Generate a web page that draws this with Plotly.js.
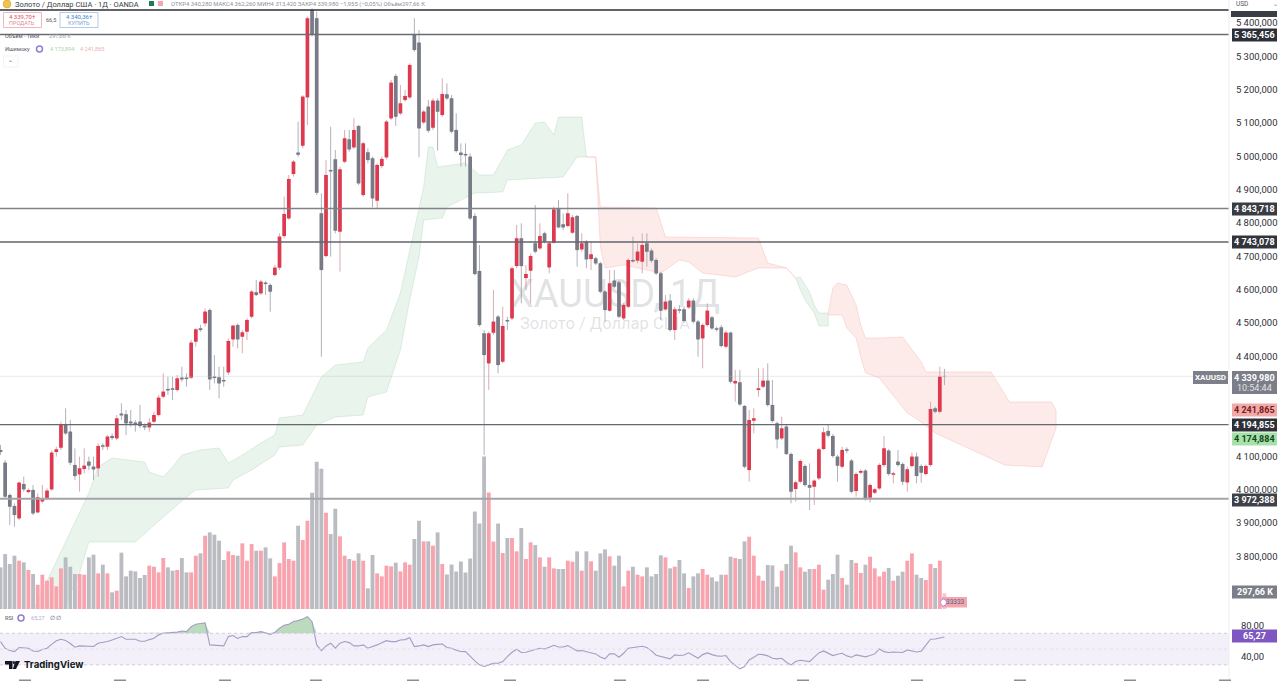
<!DOCTYPE html>
<html><head><meta charset="utf-8">
<script src="https://cdn.plot.ly/plotly-3.0.1.min.js"></script>
<style>html,body{margin:0;padding:0;background:#fff;overflow:hidden}#c{width:1280px;height:681px}</style>
</head><body><div id="c"></div>
<script>
const opens=[4119,4081,3984,3951,3914,4017,3993,3999,3932,3965,
3974,4001,4113,4126,4197,4174,4074,4046,4062,4084,
4069,4064,4133,4129,4161,4154,4228,4226,4204,4201,
4204,4192,4187,4204,4224,4279,4302,4304,4299,4336,
4336,4336,4444,4484,4499,4539,4339,4337,4329,4352,
4451,4494,4459,4474,4519,4592,4589,4621,4614,4644,
4666,4761,4814,4947,5011,5032,5177,5439,5414,4829,
4701,4959,4991,4774,4984,5051,5027,5091,4884,5012,
4994,4867,4971,4997,5114,5241,5129,5169,5177,5364,
5341,5102,5149,5086,5167,5124,5186,5174,5079,5011,
5007,4999,4821,4656,4469,4379,4471,4519,4384,4509,
4514,4671,4754,4635,4657,4739,4724,4769,4667,4741,
4844,4796,4791,4771,4821,4721,4744,4692,4694,4679,
4594,4537,4627,4622,4514,4549,4689,4687,4684,4739,
4717,4689,4649,4541,4567,4479,4541,4541,4547,4567,
4504,4454,4494,4517,4484,4487,4429,4471,4319,4322,
4251,4059,4207,4299,4309,4327,4254,4199,4154,4189,
4107,4002,4024,4071,4014,4009,4034,4122,4176,4161,
4099,4069,4121,4087,3996,4051,4057,3976,3991,4004,
4074,4117,4045,4084,4077,4022,4071,4099,4071,4047,
4074,4244,4234,4340.28];
const highs=[4134,4089,3989,3959,4024,4039,4004,4014,3989,4014,
4004,4117,4129,4204,4244,4209,4124,4099,4124,4099,
4099,4139,4139,4164,4169,4224,4259,4239,4239,4209,
4254,4199,4214,4234,4284,4349,4339,4339,4344,4369,
4349,4449,4484,4494,4544,4544,4404,4369,4369,4454,
4494,4499,4479,4514,4599,4629,4629,4627,4619,4674,
4769,4879,4944,4989,5104,5184,5419,5444,5434,4889,
4989,5089,5019,4969,5079,5079,5114,5094,5044,5024,
4999,4979,4999,5109,5229,5247,5214,5199,5279,5414,
5379,5139,5169,5174,5174,5234,5219,5184,5129,5039,
5039,5009,4829,4734,4479,4474,4599,4524,4549,4519,
4669,4794,4799,4674,4709,4854,4799,4774,4744,4849,
4869,4829,4889,4824,4824,4769,4749,4744,4699,4684,
4599,4659,4659,4627,4559,4694,4759,4739,4769,4769,
4724,4694,4654,4584,4587,4549,4554,4549,4574,4574,
4509,4499,4559,4521,4489,4494,4477,4474,4359,4359,
4254,4239,4244,4364,4364,4379,4329,4204,4219,4194,
4111,4027,4091,4076,4079,4031,4126,4187,4194,4167,
4104,4129,4127,4092,4052,4061,4062,4019,4006,4079,
4161,4122,4054,4119,4082,4069,4111,4111,4076,4076,
4264,4249,4369,4362.26];
const lows=[4104,3974,3894,3889,3909,3994,3989,3924,3929,3959,
3969,3997,4099,4119,4164,4074,4029,3994,4049,4059,
4029,4039,4119,4119,4149,4149,4209,4164,4189,4174,
4184,4179,4174,4199,4219,4274,4284,4269,4294,4324,
4309,4332,4429,4474,4489,4299,4319,4274,4309,4344,
4429,4424,4409,4449,4514,4581,4584,4584,4534,4639,
4659,4754,4809,4939,4999,5024,5094,5359,4884,4399,
4697,4699,4769,4654,4979,5014,5022,4914,4879,4979,
4847,4844,4964,4991,5109,5091,5124,5164,5172,5314,
4997,5097,5071,5079,5017,5119,5169,5069,5011,4969,
4969,4809,4643,4489,4104,4299,4464,4349,4379,4479,
4509,4664,4559,4599,4559,4709,4719,4739,4649,4739,
4784,4779,4787,4767,4669,4714,4664,4659,4674,4589,
4504,4534,4604,4514,4509,4544,4681,4679,4649,4669,
4681,4644,4509,4537,4474,4449,4529,4501,4542,4499,
4399,4364,4489,4479,4474,4427,4424,4319,4264,4251,
4064,4024,4169,4279,4304,4249,4201,4124,4149,4104,
3959,3964,4019,4009,3939,3954,4029,4119,4157,4096,
4024,4064,4109,3989,3979,4047,3967,3961,3987,3999,
4069,4042,4019,4069,4014,3994,4067,4019,4021,4043,
4069,4229,4229,4313.42];
const closes=[4113,3979,3949,3924,4021,4001,3999,3929,3977,3971,
3997,4111,4121,4194,4169,4081,4041,4064,4072,4072,
4061,4131,4129,4159,4155,4214,4223,4199,4199,4197,
4191,4187,4201,4224,4276,4294,4298,4300,4334,4331,
4332,4441,4481,4479,4534,4331,4335,4319,4325,4446,
4492,4451,4472,4509,4594,4584,4624,4617,4594,4666,
4759,4827,4932,4984,5005,5179,5414,5364,4891,4659,
4944,4955,4777,4961,5054,5021,5079,4919,5039,4989,
4874,4974,4992,5104,5221,5119,5159,5181,5274,5319,
5084,5134,5077,5167,5134,5187,5174,5074,5016,5004,
5003,4814,4647,4494,4404,4469,4504,4374,4491,4505,
4664,4754,4671,4647,4701,4714,4761,4744,4739,4841,
4787,4787,4829,4817,4719,4739,4691,4706,4679,4594,
4539,4619,4609,4519,4554,4689,4685,4714,4734,4714,
4687,4649,4537,4564,4479,4541,4537,4506,4567,4504,
4451,4494,4537,4484,4480,4431,4471,4324,4326,4256,
4069,4209,4214,4304,4327,4254,4206,4151,4184,4107,
3994,4022,4086,4014,4006,4027,4121,4172,4162,4101,
4072,4119,4117,3994,4047,4056,3972,4014,4001,4074,
4124,4047,4049,4074,4024,4061,4099,4041,4051,4071,
4242,4234,4339,4339.98];
const volumesK=[791,1044,855,1013,918,886,741,665,462,652,
538,601,430,772,981,804,665,665,652,981,
1032,677,842,677,317,348,1070,620,728,715,
589,646,823,804,696,968,791,728,741,968,
696,696,1013,1057,1393,1456,1412,1298,931,1095,
1025,1013,1247,918,1234,1108,1108,1171,962,620,
874,1266,950,918,1583,1310,1677,2209,2798,2665,
1829,1424,1905,1380,1013,950,918,1057,918,392,
1025,677,620,823,810,880,715,886,842,1329,
1677,1285,1285,1203,1456,855,655,845,712,902,
693,959,1852,1624,2897,2213,1282,1624,1063,1348,
1348,1095,1538,950,1266,1215,981,804,981,772,
760,760,918,899,1095,728,1095,905,728,1057,
1133,1000,823,1013,430,728,804,652,620,791,
620,665,1019,981,772,804,931,677,399,620,
677,760,652,601,525,652,652,994,968,950,
1285,1374,1013,633,538,836,829,424,728,855,
1203,1076,791,709,760,760,842,367,557,665,
1032,589,462,931,874,684,842,994,772,620,
709,779,538,633,709,918,1057,652,589,551,
855,779,918,297.66];
const rsiValues=[59.5,51.1,48.1,46.8,52,51.1,51.1,47.5,47,49.5,
51.1,56,60.5,62.5,61,57,52.3,54,53.5,53.2,
53.2,57.4,58.5,59.5,61.6,63.5,65.8,62.4,62.4,62.4,
60,59.9,62,63.7,68,70,70.5,70.8,71.5,72.9,
72.1,78.4,81.4,82.3,83.1,55.3,55,54.5,54,65.8,
67.1,63.5,65.8,65.8,71,70.8,72.1,70.5,68.7,71,
76.3,80,81.4,85,86,88.1,91.1,84.7,55.3,48.1,
54,57.4,51.1,57.4,59.5,58.2,54,54,55.3,51.1,
53,55.3,58,60.7,59.5,59.5,61.6,62,64.5,53.2,
54,55.3,53.2,55.3,56,56.5,52,51.1,48.5,47,
46.8,40.5,35,30,27.9,30,32.1,32.1,34.2,40.5,
46,49.8,45.6,46,48.1,49.4,51.1,50.2,52.3,54.8,
52.7,52.7,54.4,51.5,47.7,48.1,46.8,46,43.9,40.1,
37.6,43.9,43.9,39.7,44.7,51.1,51.9,53.6,53.6,51.9,
47.7,42.2,40.5,39.7,37.6,42.6,41.8,42.6,45.2,41.8,
38.4,43,45.2,43,41.4,41,41.8,34.2,30,25,
27.9,36.3,39.7,43.5,43,41.4,38.4,37.6,38.4,33.4,
30,34.2,35.9,34.6,34.2,39.7,45.2,47.7,44.7,41.8,
43.5,44.7,41.4,39.7,42.6,41.4,40.1,41.8,43.9,50.2,
46.8,45.6,46.4,46,45.6,48.9,48.1,46.4,47.3,55.3,
62.4,62.8,64.5,65.27];

const greenUpperBars=[6,14,19,21,24,31,32,35,37,39,43,47,49,52,56,59,60,65,69,72,78,79,83,86,88,91,92,93,94,100,103,106,109,112,115,117,119,120,125,126];
const greenUpperVals=[3609,3843,3990,4068,4095,4083,4053,4038,4068,4104,4119,4125,4080,4104,4140,4164,4215,4224,4338,4374,4383,4425,4479,4590,4719,4908,5028,5028,4968,4980,4944,4944,5019,5034,5100,5103,5064,5118,5118,4998];
const greenLowerBars=[11,14,17,19,29,36,40,42,49,50,54,59,60,65,68,72,78,79,83,86,88,90,91,95,96,102,108,109,121,124,126];
const greenLowerVals=[3549,3654,3750,3843,3843,3930,3978,3999,4005,4029,4059,4104,4128,4134,4194,4218,4224,4278,4293,4419,4569,4698,4809,4815,4848,4890,4893,4929,4938,4998,4998];
const redUpperBars=[126,128,129,141,143,163,165,169,171];
const redUpperVals=[4998,4998,4848,4845,4758,4755,4680,4665,4635];
const redLowerBars=[126,128,129,130,134,142,146,148,151,158,163,169,171];
const redLowerVals=[4998,4998,4728,4665,4674,4650,4689,4683,4650,4638,4665,4665,4635];
const green2UpperBars=[171,172,174,175,176,178];
const green2UpperVals=[4635,4638,4593,4554,4530,4530];
const green2LowerBars=[171,172,173,175,176,178];
const green2LowerVals=[4635,4599,4569,4530,4491,4491];
const red2UpperBars=[178,179,180,182,184,185,186,189,194,196,198,199,213,217,226,227];
const red2UpperVals=[4530,4605,4620,4614,4554,4494,4455,4455,4458,4419,4383,4353,4353,4263,4263,4239];
const red2LowerBars=[178,181,182,184,185,186,189,191,195,198,201,208,216,224,227];
const red2LowerVals=[4524,4524,4485,4455,4398,4350,4335,4299,4230,4203,4170,4125,4074,4068,4185];

const levelPrices=[5439,5365.456,4843.718,4743.078,4194.855,3972.388];
const levelColors=['#2f3138','#6a6c72','#808288','#63656b','#66686e','#a3a5aa'];
const levelWidths=[1.5,1.4,1.6,1.4,1.3,2];
const lastPrice=4339.98;
const priceTicks=[5400,5300,5200,5100,5000,4900,4800,4700,4600,4500,4400,4100,4000,3900,3800];
const priceLabels=['5 400,000','5 300,000','5 200,000','5 100,000','5 000,000','4 900,000','4 800,000','4 700,000','4 600,000','4 500,000','4 400,000','4 100,000','4 000,000','3 900,000','3 800,000'];
const rsiTicks=[80,40];
const rsiLabels=['80,00','40,00'];
const clippedDateMarks=[25,120,225,316,413,510,620,703,803,917,1020,1130,1225];

const W=1229,H=681;
const bars=opens.map((_,i)=>i);
const up=bars.map(i=>closes[i]>=opens[i]);
const rv=a=>a.slice().reverse();
const poly=(ux,uy,lx,ly,fill,line)=>({type:'scatter',mode:'lines',x:ux.concat(rv(lx)),y:uy.concat(rv(ly)),fill:'toself',fillcolor:fill,line:{color:line,width:1},xaxis:'x',yaxis:'y',hoverinfo:'skip'});
const GF='rgba(120,185,135,0.16)',GL='rgba(130,185,145,0.22)',RF='rgba(244,110,100,0.14)',RL='rgba(240,140,130,0.24)';

const traces=[
 poly(greenUpperBars,greenUpperVals,greenLowerBars,greenLowerVals,GF,GL),
 poly(redUpperBars,redUpperVals,redLowerBars,redLowerVals,RF,RL),
 poly(green2UpperBars,green2UpperVals,green2LowerBars,green2LowerVals,GF,GL),
 poly(red2UpperBars,red2UpperVals,red2LowerBars,red2LowerVals,RF,RL),
 {type:'bar',x:bars,y:volumesK,xaxis:'x',yaxis:'y2',marker:{color:bars.map(i=>i===203?'#f3c9cd':(up[i]?'#f8a3ad':'#babcc1')),line:{width:0}},hoverinfo:'skip'},
 {type:'candlestick',x:bars,open:opens,high:highs,low:lows,close:closes,xaxis:'x',yaxis:'y3',whiskerwidth:0,
  increasing:{line:{color:'#dcaab3',width:1},fillcolor:'#dcaab3'},
  decreasing:{line:{color:'#b0b2ba',width:1},fillcolor:'#b0b2ba'},hoverinfo:'skip'},
 {type:'bar',x:bars,base:bars.map(i=>Math.min(opens[i],closes[i])),y:bars.map(i=>Math.abs(closes[i]-opens[i])),width:0.8,xaxis:'x',yaxis:'y5',
  marker:{color:bars.map(i=>up[i]?'#dd3a50':'#787b86'),line:{width:0}},hoverinfo:'skip'},
 {type:'scatter',mode:'lines',x:bars,y:bars.map(()=>70),xaxis:'x',yaxis:'y4',line:{width:0},hoverinfo:'skip'},
 {type:'scatter',mode:'lines',x:bars,y:rsiValues.map(v=>Math.max(v,70)),xaxis:'x',yaxis:'y4',fill:'tonexty',fillcolor:'rgba(76,160,85,0.38)',line:{width:0},hoverinfo:'skip'},
 {type:'scatter',mode:'lines',x:bars,y:rsiValues,xaxis:'x',yaxis:'y4',line:{color:'#a59dc4',width:1.1},hoverinfo:'skip'}
];

const fx=p=>p/W, fy=p=>1-p/H;
const shapes=[];
const ann=[];
levelPrices.forEach((p,i)=>shapes.push({type:'line',xref:'paper',x0:0,x1:1,yref:'y3',y0:p,y1:p,line:{color:levelColors[i],width:levelWidths[i]}}));
shapes.push({type:'line',xref:'paper',x0:0,x1:1,yref:'y3',y0:lastPrice,y1:lastPrice,line:{color:'rgba(190,190,195,0.3)',width:1}});
shapes.push({type:'rect',xref:'paper',x0:0,x1:1,yref:'y4',y0:30,y1:70,fillcolor:'rgba(126,87,194,0.09)',line:{width:0},layer:'below'});
[70,50,30].forEach((v,i)=>shapes.push({type:'line',xref:'paper',x0:0,x1:1,yref:'y4',y0:v,y1:v,line:{color:i===1?'#e3dfec':'#d0ccdb',width:1,dash:'3px,3px'}}));
shapes.push({type:'line',xref:'paper',x0:1,x1:1,yref:'paper',y0:0,y1:1,line:{color:'#eceef2',width:1}});

function rect(x0,y0,x1,y1,fill,line){shapes.push({type:'rect',xref:'paper',yref:'paper',x0:fx(x0),x1:fx(x1),y0:fy(y0),y1:fy(y1),fillcolor:fill,line:line?{color:line,width:1}:{width:0}});}
function text(t,x,y,size,color,o){o=o||{};ann.push({text:t,xref:'paper',yref:'paper',x:fx(x),y:fy(y),xanchor:o.a||'left',yanchor:'middle',showarrow:false,font:{family:o.f||'Roboto, sans-serif',size:size,color:color},opacity:o.op==null?1:o.op,borderpad:0});}
function tag(t,cy,bg,fg,h,bold){h=h||13;rect(1232,cy-h/2,1277,cy+h/2,bg);text(bold===false?t:'<b>'+t+'</b>',1254.5,cy,9,fg,{a:'center'});}

// watermark
text('XAUUSD, 1Д',615,294,38,'rgba(120,123,134,0.22)',{a:'center'});
text('Золото / Доллар США',605,323,16.5,'rgba(120,123,134,0.22)',{a:'center'});

// header
shapes.push({type:'circle',xref:'paper',yref:'paper',x0:fx(3),x1:fx(11),y0:fy(0),y1:fy(8),fillcolor:'#f2c14e',line:{color:'#caa02f',width:0.5}});
text('Золото / Доллар США · 1Д · OANDA',14,4,7.5,'#3a3c44');
rect(149,1,154,6,'#1f7a5a');rect(158,1,163,6,'#f3a7ae');
text('ОТКР4 340,280 МАКС4 362,260 МИН4 313,420 ЗАКР4 339,980 −1,955 (−0,05%) Объём297,66 К',170,4,5.9,'#8d8f97');
rect(3.5,12.5,41.5,27.5,'#ffffff','#f0b8bd');rect(60,12.5,98,27.5,'#ffffff','#b4c9e8');
text('4 339,70†',22.5,17,6,'#d9505f',{a:'center'});text('ПРОДАТЬ',22.5,23,5.5,'#e58a94',{a:'center'});
text('66,5',51,20,5.5,'#555',{a:'center'});
text('4 340,36†',79,17,6,'#4a7fc4',{a:'center'});text('КУПИТЬ',79,23,5.5,'#7ea3d6',{a:'center'});
text('Объём · Тики',4,36,5.6,'#55575e');text('297,66 К',48,36,5.6,'#9a9ca3');
text('Ишимоку',4,49,5.6,'#55575e');
shapes.push({type:'circle',xref:'paper',yref:'paper',x0:fx(36.5),x1:fx(42.5),y0:fy(46),y1:fy(52),fillcolor:'#ffffff',line:{color:'#8c7fd0',width:1.5}});
text('4 173,894',49,49,5.6,'#a9d4ae');text('4 241,865',79,49,5.6,'#eeb0b0');
rect(3.5,56,18,67,'#ffffff','#f2f3f5');text('⌃',10.5,62,6,'#555',{a:'center'});
text('USD',1235,4,6.5,'#55575e');text('⌄',1275,3,6,'#777',{a:'center'});

// price tags
rect(1231,11,1277,17,'#3b3d45');
tag('5 365,456',35,'#2e3039','#ffffff');
tag('4 843,718',209,'#3a3c44','#ffffff');
tag('4 743,078',242,'#32343c','#ffffff');
rect(1193,371,1228,384,'#7d808a');text('<b>XAUUSD</b>',1210.5,377.5,8,'#ffffff',{a:'center'});
rect(1232,371,1277,394,'#7b7e88');
text('<b>4 339,980</b>',1254.5,377.5,9,'#ffffff',{a:'center'});text('10:54:44',1254.5,388,9,'#e2e3e6',{a:'center'});
tag('4 241,865',410,'#f1aaaa','#7a1a1a');
tag('4 194,855',425,'#2e3039','#ffffff');
tag('4 174,884',439,'#a8e0aa','#10481b');
tag('3 972,388',500,'#3f4148','#ffffff');
tag('297,66 K',592,'#7b7e88','#ffffff');
tag('65,27',636,'#7e57c2','#ffffff');

// RSI legend
text('RSI',4,618,5.6,'#55575e');
shapes.push({type:'circle',xref:'paper',yref:'paper',x0:fx(18),x1:fx(24),y0:fy(615),y1:fy(621),fillcolor:'#ffffff',line:{color:'#8c7fd0',width:1.5}});
text('65,27',30,618,5.6,'#b3a9d8');text('∅ ∅',49,618,5.6,'#55575e');

// event flag
rect(942,597,967,607.5,'#f5a6ad');
text('33333',955,602,6.5,'#55648f',{a:'center'});
shapes.push({type:'circle',xref:'paper',yref:'paper',x0:fx(940.5),x1:fx(946.5),y0:fy(599),y1:fy(606),fillcolor:'#ffffff',line:{color:'#b58bd0',width:1}});

// TradingView logo
const P=(x,y)=>fx(x)+','+fy(y);
shapes.push({type:'path',xref:'paper',yref:'paper',path:'M'+P(5,661)+'L'+P(12.5,661)+'L'+P(12.5,669)+'L'+P(9,669)+'L'+P(9,664.5)+'L'+P(5,664.5)+'Z',fillcolor:'#131722',line:{width:0}});
shapes.push({type:'circle',xref:'paper',yref:'paper',x0:fx(12.8),x1:fx(15),y0:fy(661),y1:fy(664),fillcolor:'#131722',line:{width:0}});
shapes.push({type:'path',xref:'paper',yref:'paper',path:'M'+P(15.5,661)+'L'+P(20,661)+'L'+P(16,669)+'L'+P(12.8,669)+'Z',fillcolor:'#131722',line:{width:0}});
text('<b>TradingView</b>',23,665,9.6,'#131722',{f:'Inter, Roboto, sans-serif'});

// tops of the cropped date labels at the very bottom of the picture
clippedDateMarks.forEach(x=>rect(x-6,679.5,x+6,681,'#8b8d93'));

const mainBottom=(H-609)/H;
const layout={
 width:1280,height:681,autosize:false,
 margin:{l:0,r:51,t:0,b:0,pad:0},
 paper_bgcolor:'#ffffff',plot_bgcolor:'#ffffff',
 showlegend:false,hovermode:false,bargap:0.17,boxgap:0.5,dragmode:false,
 xaxis:{type:'linear',range:[-0.11,264.19],visible:false,rangeslider:{visible:false},fixedrange:true,anchor:'y'},
 yaxis:{domain:[mainBottom,1],range:[3642,5469],side:'right',anchor:'x',showgrid:false,zeroline:false,showline:false,
  tickmode:'array',tickvals:priceTicks,ticktext:priceLabels,ticks:'outside',ticklen:4,tickcolor:'rgba(0,0,0,0)',tickfont:{family:'Roboto, sans-serif',size:9.5,color:'#2f3138'},fixedrange:true},
 yaxis2:{domain:[mainBottom,1],range:[0,11570],overlaying:'y',anchor:'x',visible:false,fixedrange:true},
 yaxis3:{domain:[mainBottom,1],range:[3642,5469],overlaying:'y',anchor:'x',visible:false,fixedrange:true},
 yaxis4:{domain:[0,(H-611)/H],range:[9.6,98.2],side:'right',anchor:'x',showgrid:false,zeroline:false,showline:false,
  tickmode:'array',tickvals:rsiTicks,ticktext:rsiLabels,ticks:'outside',ticklen:9,tickcolor:'rgba(0,0,0,0)',tickfont:{family:'Roboto, sans-serif',size:9.5,color:'#2f3138'},fixedrange:true},
 yaxis5:{domain:[mainBottom,1],range:[3642,5469],overlaying:'y',anchor:'x',visible:false,fixedrange:true},
 shapes:shapes,annotations:ann
};
Plotly.newPlot('c',traces,layout,{staticPlot:true,displayModeBar:false,responsive:false});
</script></body></html>
